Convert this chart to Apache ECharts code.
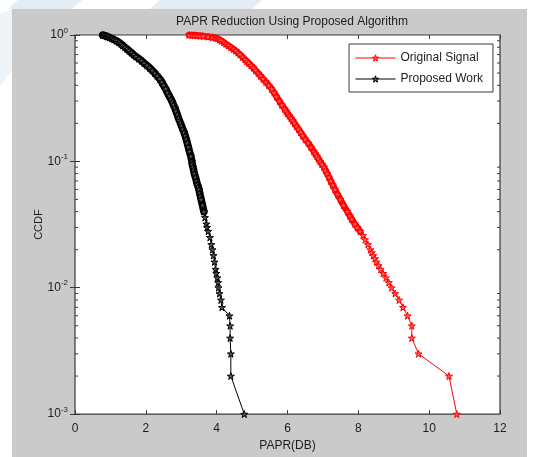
<!DOCTYPE html>
<html>
<head>
<meta charset="utf-8">
<script src="https://cdn.jsdelivr.net/npm/echarts@6/dist/echarts.min.js"></script>
<style>
html,body{margin:0;padding:0;background:#fff;}
#c{width:540px;height:457px;}
</style>
</head>
<body>
<div id="c"></div>
<script>
// ---- data ----
const xTicks = [0, 2, 4, 6, 8, 10, 12];
const yDecades = [0.001, 0.01, 0.1, 1];

const originalCcdf = [1.000,0.998,0.995,0.99,0.985,0.98,0.97,0.96,0.95,0.94,0.92,0.90,0.875,0.85,0.825,0.80,0.775,0.75,0.725,0.70,0.67,0.64,0.62,0.60,0.575,0.55,0.525,0.50,0.475,0.45,0.425,0.40,0.375,0.35,0.325,0.30,0.28,0.26,0.25,0.24,0.23,0.22,0.21,0.20,0.19,0.18,0.17,0.16,0.15,0.14,0.13,0.12,0.115,0.11,0.105,0.10,0.095,0.090,0.085,0.080,0.075,0.070,0.065,0.060,0.055,0.050,0.045,0.040,0.037,0.035,0.032,0.030,0.028,0.026,0.024,0.022,0.020,0.019,0.018,0.017,0.016,0.015,0.014,0.013,0.012,0.011,0.010,0.009,0.008,0.007,0.006,0.005,0.004,0.003,0.002,0.001];
const originalPapr = [3.22,3.30,3.38,3.45,3.53,3.62,3.76,3.88,3.96,4.02,4.08,4.13,4.20,4.26,4.33,4.40,4.47,4.54,4.60,4.66,4.73,4.80,4.85,4.90,4.97,5.04,5.10,5.17,5.24,5.31,5.39,5.47,5.55,5.62,5.69,5.77,5.84,5.92,5.96,6.00,6.05,6.10,6.15,6.20,6.25,6.31,6.37,6.43,6.50,6.58,6.66,6.74,6.78,6.83,6.87,6.92,6.97,7.03,7.07,7.12,7.17,7.22,7.28,7.34,7.41,7.49,7.58,7.69,7.76,7.81,7.90,7.97,8.05,8.13,8.19,8.27,8.34,8.38,8.42,8.47,8.51,8.57,8.63,8.70,8.78,8.86,8.94,9.04,9.15,9.26,9.39,9.51,9.51,9.70,10.56,10.78];

const proposedCcdf = [1.000,0.995,0.99,0.98,0.97,0.955,0.94,0.92,0.90,0.875,0.85,0.825,0.80,0.775,0.75,0.725,0.70,0.675,0.65,0.625,0.60,0.575,0.55,0.525,0.50,0.475,0.45,0.425,0.40,0.375,0.35,0.33,0.31,0.295,0.28,0.265,0.25,0.235,0.22,0.21,0.20,0.19,0.18,0.17,0.16,0.15,0.14,0.13,0.12,0.11,0.10,0.095,0.090,0.085,0.080,0.075,0.070,0.066,0.063,0.060,0.056,0.053,0.050,0.045,0.040,0.036,0.032,0.030,0.028,0.025,0.022,0.020,0.018,0.016,0.014,0.013,0.012,0.011,0.010,0.009,0.008,0.007,0.006,0.005,0.004,0.003,0.002,0.001];
const proposedPapr = [0.78,0.82,0.85,0.89,0.93,0.98,1.04,1.10,1.17,1.24,1.30,1.35,1.41,1.47,1.53,1.59,1.65,1.72,1.80,1.88,1.95,2.03,2.11,2.18,2.25,2.32,2.39,2.45,2.50,2.56,2.61,2.66,2.71,2.75,2.78,2.82,2.85,2.89,2.92,2.95,2.98,3.01,3.04,3.08,3.11,3.14,3.17,3.20,3.23,3.27,3.30,3.31,3.33,3.35,3.37,3.40,3.43,3.45,3.48,3.50,3.52,3.54,3.56,3.60,3.64,3.67,3.71,3.73,3.76,3.81,3.85,3.88,3.91,3.94,3.97,3.99,4.02,4.04,4.05,4.08,4.12,4.15,4.36,4.38,4.38,4.40,4.40,4.78];

// where the plotted markers merge into a solid band (CCDF level)
const originalDenseUntil = 0.028;
const proposedDenseUntil = 0.040;

const minorMultipliers = [2, 3, 4, 5, 6, 7, 8, 9];

// ---- build chart ----
const pairs = (xs, ys) => xs.map((x, i) => [x, ys[i]]);
const densePairs = (xs, ys, lim) => pairs(xs, ys).filter(p => p[1] >= lim);
const minorTicks = [];
[0.001, 0.01, 0.1].forEach(d => minorMultipliers.forEach(m => minorTicks.push([0, +(d * m).toPrecision(3)])));

const STAR = 'path://M50,0 L61.2,34.5 L97.6,34.5 L68.2,55.9 L79.4,90.5 L50,69.1 L20.6,90.5 L31.8,55.9 L2.4,34.5 L38.8,34.5 Z';
const FRAME = '#3a3a3a';
const TXT = '#1e1e1e';
const RED = '#ff0000';
const BLACK = '#000000';

const chart = echarts.init(document.getElementById('c'), null, {renderer: 'canvas'});
chart.setOption({
  animation: false,
  backgroundColor: '#ffffff',
  graphic: [
    {type: 'polygon', z: -10, silent: true, shape: {points: [[18,0],[82,0],[72,9],[8,9]]}, style: {fill: '#e4ecf4'}},
    {type: 'polygon', z: -10, silent: true, shape: {points: [[160,0],[262,0],[252,9],[150,9]]}, style: {fill: '#e4ecf4'}},
    {type: 'polygon', z: -10, silent: true, shape: {points: [[0,14],[12,9],[12,70],[0,86]]}, style: {fill: '#eef3f8'}},
    {type: 'rect', z: -9, silent: true, shape: {x: 12, y: 9, width: 515, height: 448}, style: {fill: '#cacaca'}}
  ],
  title: {
    text: 'PAPR Reduction Using Proposed Algorithm',
    left: 287, top: 11, textAlign: 'center',
    textStyle: {fontFamily: 'Liberation Sans', fontSize: 12, fontWeight: 'normal', color: TXT}
  },
  legend: {
    orient: 'vertical',
    left: 349, top: 44,
    width: 144,
    padding: [8, 10, 7, 6],
    itemGap: 9,
    itemWidth: 40, itemHeight: 8,
    backgroundColor: '#ffffff',
    borderColor: FRAME, borderWidth: 1,
    textStyle: {fontFamily: 'Liberation Sans', fontSize: 12, color: TXT},
    data: [
      {name: 'Original Signal', lineStyle: {width: 1, color: RED}, itemStyle: {color: '#ff6060', borderColor: RED, borderWidth: 1}},
      {name: 'Proposed Work', lineStyle: {width: 1, color: BLACK}, itemStyle: {color: '#555555', borderColor: BLACK, borderWidth: 1}}
    ]
  },
  grid: {
    left: 75, right: 40, top: 35, bottom: 36,
    show: true, backgroundColor: '#ffffff', borderColor: FRAME, borderWidth: 1.2
  },
  xAxis: [
    {
      type: 'value', min: 0, max: 12, interval: 2,
      name: 'PAPR(DB)', nameLocation: 'middle', nameGap: 23,
      nameTextStyle: {fontFamily: 'Liberation Sans', fontSize: 12, color: TXT},
      axisLine: {show: false},
      axisTick: {show: true, inside: true, length: 4, lineStyle: {color: FRAME}},
      axisLabel: {margin: 9, fontFamily: 'Liberation Sans', fontSize: 12, color: TXT,
        customValues: xTicks},
      splitLine: {show: false}
    },
    {
      type: 'value', min: 0, max: 12, interval: 2, position: 'top',
      axisLine: {show: false},
      axisTick: {show: true, inside: true, length: 4, lineStyle: {color: FRAME}},
      axisLabel: {show: false},
      splitLine: {show: false}
    }
  ],
  yAxis: [
    {
      type: 'log', logBase: 10, min: 0.001, max: 1,
      name: 'CCDF', nameLocation: 'middle', nameGap: 31, nameMoveOverlap: false,
      nameTextStyle: {fontFamily: 'Liberation Sans', fontSize: 11, color: TXT},
      axisLine: {show: false},
      axisTick: {show: true, inside: true, length: 5, lineStyle: {color: FRAME}},
      axisLabel: {
        margin: 7,
        formatter: v => '{b|10}{s|' + Math.round(Math.log10(v)) + '}',
        rich: {
          b: {fontFamily: 'Liberation Sans', fontSize: 12, color: TXT},
          s: {fontFamily: 'Liberation Sans', fontSize: 8, color: TXT, padding: [0, 0, 9, 0]}
        }
      },
      splitLine: {show: false}
    },
    {
      type: 'log', logBase: 10, min: 0.001, max: 1, position: 'right',
      axisLine: {show: false},
      axisTick: {show: true, inside: true, length: 5, lineStyle: {color: FRAME}},
      axisLabel: {show: false},
      splitLine: {show: false}
    }
  ],
  series: [
    {
      name: 'Original Signal', type: 'line',
      data: pairs(originalPapr, originalCcdf),
      symbol: STAR, symbolSize: 7, showSymbol: true, showAllSymbol: true,
      lineStyle: {color: RED, width: 1},
      itemStyle: {color: '#ff6060', borderColor: RED, borderWidth: 1},
      z: 4
    },
    {
      name: 'Proposed Work', type: 'line',
      data: pairs(proposedPapr, proposedCcdf),
      symbol: STAR, symbolSize: 7, showSymbol: true, showAllSymbol: true,
      lineStyle: {color: BLACK, width: 1},
      itemStyle: {color: '#555555', borderColor: BLACK, borderWidth: 1},
      z: 4
    },
    {
      // dense part of the same curve: overlapping markers form a solid band
      name: 'Original Signal', type: 'line',
      data: densePairs(originalPapr, originalCcdf, originalDenseUntil),
      symbol: 'none', lineStyle: {color: RED, width: 6.5, cap: 'round', join: 'round'},
      z: 3
    },
    {
      name: 'Proposed Work', type: 'line',
      data: densePairs(proposedPapr, proposedCcdf, proposedDenseUntil),
      symbol: 'none', lineStyle: {color: BLACK, width: 7.5, cap: 'round', join: 'round'},
      z: 3
    },
    {
      name: 'minorTicks', type: 'custom',
      silent: true, clip: false,
      data: minorTicks,
      renderItem: function (params, api) {
        const v = api.value(1);
        const pl = api.coord([0, v]);
        const pr = api.coord([12, v]);
        return {
          type: 'group',
          children: [
            {type: 'line', shape: {x1: pl[0], y1: pl[1], x2: pl[0] + 3, y2: pl[1]}, style: {stroke: FRAME, lineWidth: 1}},
            {type: 'line', shape: {x1: pr[0], y1: pr[1], x2: pr[0] - 3, y2: pr[1]}, style: {stroke: FRAME, lineWidth: 1}}
          ]
        };
      },
      z: 2
    }
  ]
});
</script>
</body>
</html>
